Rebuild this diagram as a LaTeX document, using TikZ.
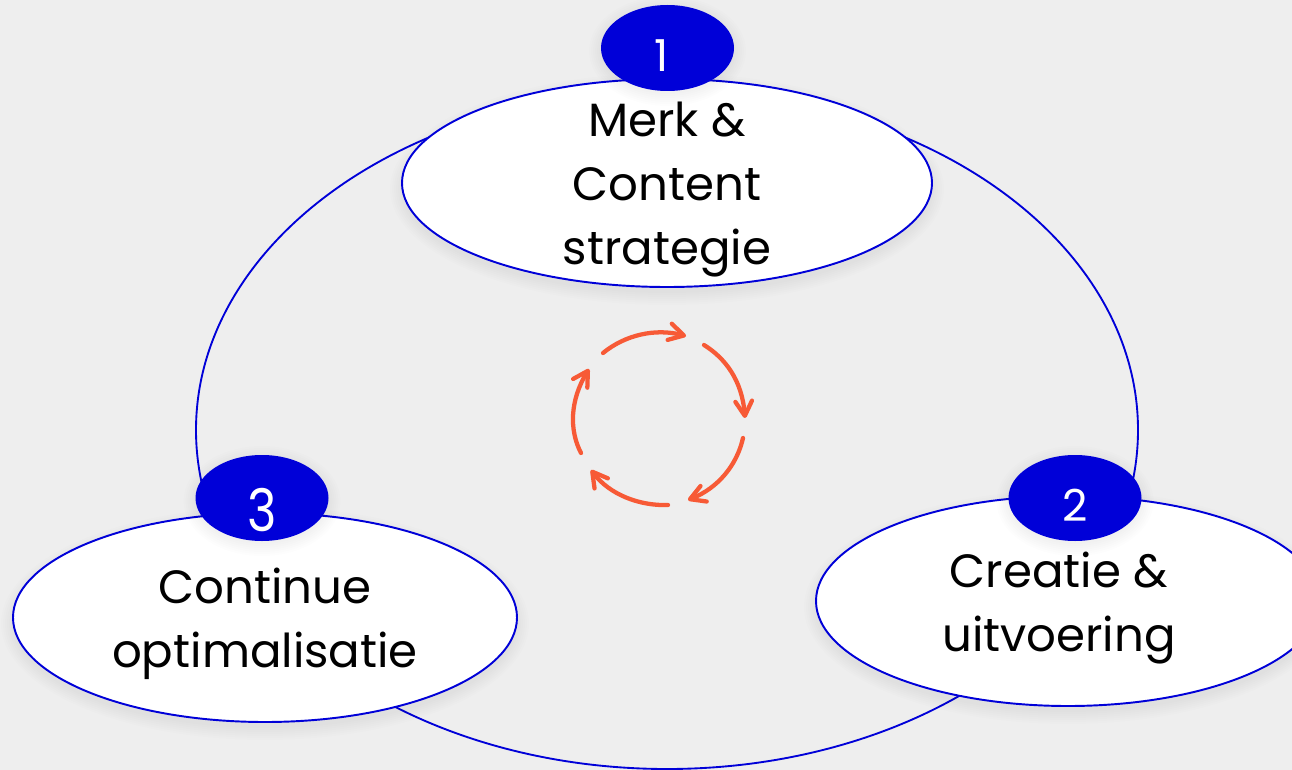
\documentclass[tikz,border=0pt]{standalone}
\usepackage{fontspec}
\setmainfont{Poppins}
\usetikzlibrary{arrows.meta}
\definecolor{pagebg}{HTML}{EEEEEE}
\definecolor{royal}{HTML}{0000D8}
\definecolor{coral}{HTML}{F75A36}
\newcommand{\softshadow}[5]{% x y rx ry yshift
  \foreach \g in {12,10,8,6,4,2,0}{
    \fill[black,opacity=0.008] (#1,#2+#5) ellipse [x radius=#3+\g, y radius=#4+\g];
  }}
\tikzset{
  x=0.75pt,y=-0.75pt,
  stage/.style={draw=royal,line width=1.45pt,fill=white},
  badge/.style={fill=royal},
  stagetext/.style={font=\fontsize{35}{48}\selectfont,align=center,text=black,inner sep=0pt},
  badgetext/.style={font=\fontsize{33}{33}\selectfont,text=white,inner sep=0pt},
  loopline/.style={draw=coral,line width=3.2pt,line cap=round,line join=round},
  looptip/.style={loopline,-{Straight Barb[length=11pt,width=12.5pt,line width=3.2pt,round]}},
}
\begin{document}
\begin{tikzpicture}
\useasboundingbox (0,0) rectangle (1292,770);
\fill[pagebg] (0,0) rectangle (1292,770);
% outer cycle
\draw[royal,line width=1.4pt] (667,430) ellipse [x radius=471, y radius=339];
% stage ellipses
\softshadow{667}{183}{265}{104}{6}
\softshadow{1068}{601}{252}{105}{6}
\softshadow{265}{617.5}{252}{104.5}{6}
\filldraw[stage] (667,183) ellipse [x radius=265, y radius=104];
\filldraw[stage] (1068,601) ellipse [x radius=252, y radius=105];
\filldraw[stage] (265,617.5) ellipse [x radius=252, y radius=104.5];
% badges
\softshadow{667.5}{48}{66.5}{43}{3}
\softshadow{1075}{498}{66.5}{43}{3}
\softshadow{262}{498}{66.5}{43}{3}
\fill[badge] (667.5,48) ellipse [x radius=66.5, y radius=43];
\fill[badge] (1075,498) ellipse [x radius=66.5, y radius=43];
\fill[badge] (262,498) ellipse [x radius=66.5, y radius=43];
\node[badgetext] (b1) at (662,56) {1};
\node[badgetext] (b2) at (1075,505) {2};
\node[badgetext,font=\fontsize{44}{44}\selectfont] (b3) at (262,510) {\scalebox{0.85}[1]{3}};
\node[stagetext] (s1) at (667,190) {Merk \&\\Content\\strategie};
\node[stagetext] (s2) at (1059,608) {Creatie \&\\uitvoering};
\node[stagetext] (s3) at (265,624) {Continue\\optimalisatie};
% centre loop
\draw[looptip] (603,353) .. controls (625,335) and (655,328) .. (686,336);
\draw[looptip] (704,345) .. controls (725,358) and (742,380) .. (745,418);
\draw[looptip] (743,438) .. controls (737,465) and (718,488) .. (688,500);
\draw[looptip] (668,505) .. controls (640,506) and (610,495) .. (591,470);
\draw[looptip] (581,453) .. controls (569,430) and (570,400) .. (589,369);
\end{tikzpicture}
\end{document}
